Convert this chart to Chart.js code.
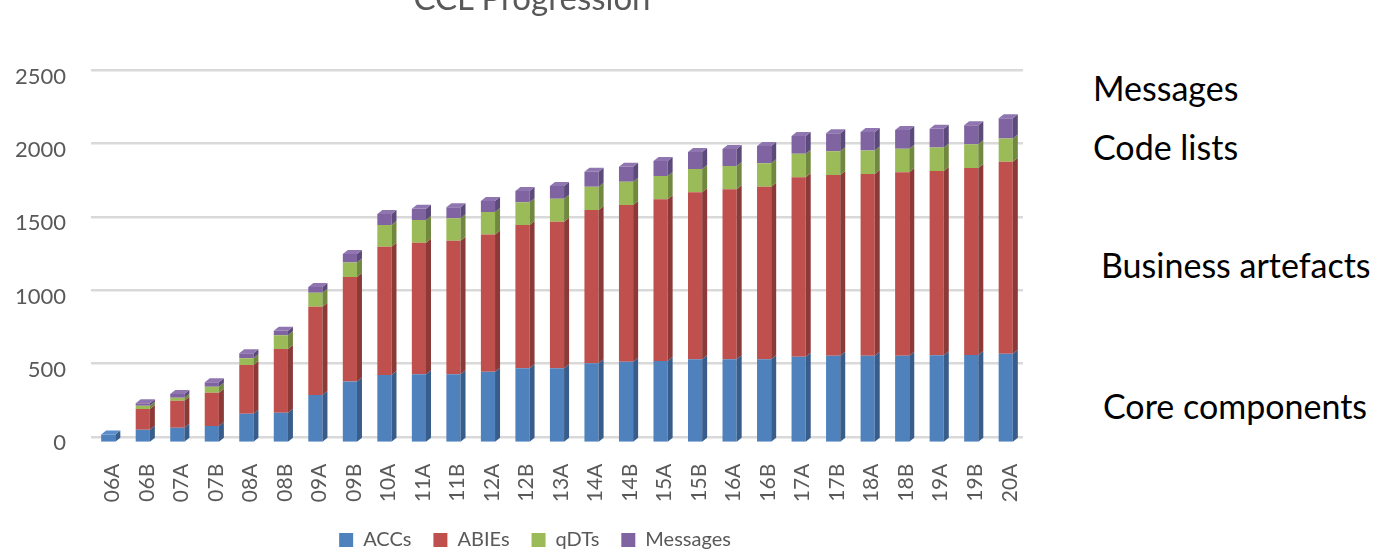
<!DOCTYPE html>
<html>
<head>
<meta charset="utf-8">
<script src="https://cdn.jsdelivr.net/npm/chart.js@4.4.1/dist/chart.umd.min.js"></script>
<style>
  html, body { margin: 0; padding: 0; background: #ffffff; overflow: hidden; width: 1381px; height: 557px; }
  #wrap { position: absolute; left: 0; top: 0; width: 1070px; height: 560px; }
  #title { position: absolute; left: 0; width: 1064px; top: -19px; text-align: center; font-family: Lato, sans-serif; font-size: 33px; line-height: 33px; color: #595959; }
  .note { position: absolute; font-family: Lato, sans-serif; font-size: 34px; color: #000000; white-space: nowrap; line-height: 34px; }
</style>
</head>
<body>
<div id="wrap"><canvas id="c" width="1070" height="560"></canvas></div>
<div id="title">CCL Progression</div>
<div class="note" style="left:1093px; top:71px;">Messages</div>
<div class="note" style="left:1093px; top:130px;">Code lists</div>
<div class="note" style="left:1101px; top:248px;">Business artefacts</div>
<div class="note" style="left:1103px; top:389px;">Core components</div>
<script>
const categories = ['06A','06B','07A','07B','08A','08B','09A','09B','10A','11A','11B','12A','12B','13A','14A','14B','15A','15B','16A','16B','17A','17B','18A','18B','19A','19B','20A'];
const accs     = [48, 80, 93, 105, 187, 193, 311, 402, 445, 449, 449, 467, 489, 489, 523, 533, 538, 549, 549, 549, 567, 573, 573, 573, 576, 578, 587];
const abies    = [0, 138, 180, 222, 324, 425, 589, 696, 855, 878, 891, 915, 956, 977, 1022, 1045, 1078, 1114, 1134, 1151, 1196, 1205, 1212, 1223, 1229, 1247, 1280];
const qdts     = [0, 22, 20, 40, 45, 91, 93, 97, 145, 151, 149, 149, 151, 153, 155, 155, 155, 155, 155, 156, 156, 158, 157, 157, 157, 158, 155];
const messages = [0, 16, 25, 29, 33, 31, 38, 56, 73, 75, 74, 74, 75, 86, 100, 100, 100, 113, 113, 115, 119, 120, 123, 125, 125, 126, 134];
const yTicks = [0, 500, 1000, 1500, 2000, 2500];

const FRONT = ['#4f81bd', '#c0504d', '#9bbb59', '#8064a2'];
const SIDE  = ['#385d8a', '#8c3a38', '#71893f', '#5c4a7b'];
const TOP   = ['#5b8ccb', '#cf6360', '#a8c86a', '#8f76b0'];

const bar3d = {
  id: 'bar3d',
  afterDatasetsDraw(chart) {
    const ctx = chart.ctx;
    const dx = 5, dy = 4;
    const n = chart.data.labels.length;
    ctx.save();
    for (let i = 0; i < n; i++) {
      let topIdx = -1;
      chart.data.datasets.forEach((ds, d) => { if (ds.data[i] > 0) topIdx = d; });
      chart.data.datasets.forEach((ds, d) => {
        if (!(ds.data[i] > 0)) return;
        const el = chart.getDatasetMeta(d).data[i];
        const p = el.getProps(['x', 'y', 'base', 'width'], true);
        const l = p.x - p.width / 2, r = p.x + p.width / 2;
        const yt = Math.min(p.y, p.base), yb = Math.max(p.y, p.base);
        ctx.fillStyle = SIDE[d];
        ctx.beginPath();
        ctx.moveTo(r, yt); ctx.lineTo(r + dx, yt - dy); ctx.lineTo(r + dx, yb - dy); ctx.lineTo(r, yb);
        ctx.closePath(); ctx.fill();
        if (d === topIdx) {
          ctx.fillStyle = TOP[d];
          ctx.beginPath();
          ctx.moveTo(l, yt); ctx.lineTo(r, yt); ctx.lineTo(r + dx, yt - dy); ctx.lineTo(l + dx, yt - dy);
          ctx.closePath(); ctx.fill();
        }
      });
    }
    ctx.restore();
  }
};

const names = ['ACCs', 'ABIEs', 'qDTs', 'Messages'];
const series = [accs, abies, qdts, messages];

new Chart(document.getElementById('c'), {
  type: 'bar',
  data: {
    labels: categories,
    datasets: series.map((s, d) => ({
      label: names[d],
      data: s,
      backgroundColor: FRONT[d],
      borderWidth: 0,
      barPercentage: 0.41,
      categoryPercentage: 1.0,
      yAxisID: 'y'
    }))
  },
  options: {
    responsive: false,
    animation: false,
    layout: { padding: { top: 66.7, right: 0, bottom: 0, left: 0 } },
    plugins: {
      title: { display: false },
      tooltip: { enabled: false },
      legend: {
        position: 'bottom',
        labels: {
          boxWidth: 14, boxHeight: 14, padding: 22,
          color: '#595959',
          font: { family: 'Lato', size: 20 }
        }
      }
    },
    scales: {
      x: {
        stacked: true,
        grid: { display: false },
        border: { display: false },
        ticks: {
          autoSkip: false, minRotation: 90, maxRotation: 90,
          padding: 14, labelOffset: 4,
          color: '#595959', font: { family: 'Lato', size: 21 }
        },
        afterFit: s => { s.height = 66.3; }
      },
      y: {
        stacked: true, display: false, min: 0, max: 2500
      },
      yl: {
        type: 'linear', position: 'left', min: 8.88, max: 2570.4,
        grid: { display: false, drawTicks: false },
        border: { display: false },
        ticks: { padding: 25, color: '#595959', font: { family: 'Lato', size: 22 }, callback: v => String(v) },
        afterBuildTicks: s => { s.ticks = yTicks.map(v => ({ value: v })); },
        afterFit: s => { s.width = 91; }
      },
      yg: {
        type: 'linear', position: 'left', min: -32, max: 2522.5,
        grid: { color: '#d9d9d9', lineWidth: 2.5, drawTicks: false },
        border: { display: false },
        ticks: { display: false },
        afterBuildTicks: s => { s.ticks = yTicks.map(v => ({ value: v })); },
        afterFit: s => { s.width = 0; }
      },
      yr: {
        type: 'linear', position: 'right', min: 0, max: 1,
        grid: { display: false }, border: { display: false },
        ticks: { display: false },
        afterFit: s => { s.width = 47; }
      }
    }
  },
  plugins: [bar3d]
});
</script>
</body>
</html>
